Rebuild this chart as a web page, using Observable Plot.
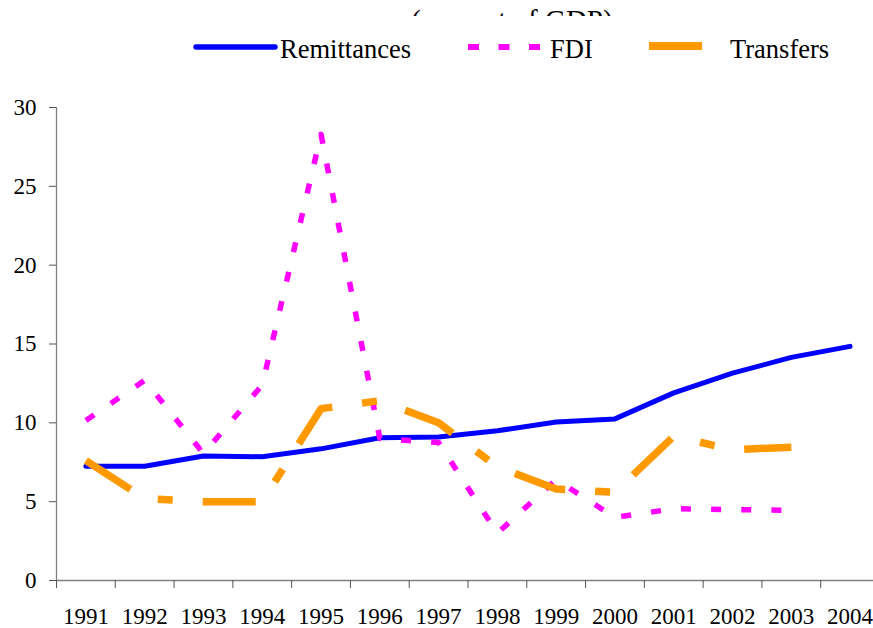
<!DOCTYPE html>
<html>
<head>
<meta charset="utf-8">
<script src="https://cdn.jsdelivr.net/npm/d3@7"></script>
<script src="https://cdn.jsdelivr.net/npm/@observablehq/plot@0.6"></script>
<style>
  html, body { margin: 0; padding: 0; background: #fff; overflow: hidden; }
  #wrap { position: relative; width: 873px; height: 628px; overflow: hidden; background: #fff;
          font-family: "Liberation Serif", "Times New Roman", serif; }
  #head { position: absolute; left: 0; top: 0; }
  #chart { position: absolute; left: 0; top: 70px; }
  #chart svg, #chart svg text { font-family: "Liberation Serif", "Times New Roman", serif !important; }
</style>
</head>
<body>
<div id="wrap">
  <svg id="head" width="873" height="70"></svg>
  <div id="chart"></div>
</div>
<script>
// ---- data ----
const title = "(percent of GDP)";
const years = [1991, 1992, 1993, 1994, 1995, 1996, 1997, 1998, 1999, 2000, 2001, 2002, 2003, 2004];
const remittances = [7.25, 7.25, 7.9, 7.85, 8.35, 9.05, 9.1, 9.5, 10.05, 10.25, 11.9, 13.15, 14.15, 14.85];
const fdi = [10.15, 12.7, 8.05, 12.4, 28.3, 9.0, 8.75, 3.0, 6.4, 4.0, 4.55, 4.5, 4.45];
const transfers = [7.6, 5.2, 5.0, 5.0, 10.9, 11.4, 10.0, 7.2, 5.8, 5.6, 9.15, 8.3, 8.45];
const yTicks = [0, 5, 10, 15, 20, 25, 30];
const seriesNames = ["Remittances", "FDI", "Transfers"];
const seriesColors = ["#0000FF", "#FF00FF", "#FF9900"];

// ---- styles ----
const fontFamily = "'Liberation Serif', 'Times New Roman', serif";
const axisColor = "#808080";
const styles = [
  {strokeWidth: 5, dash: null, cap: "round"},
  {strokeWidth: 5.5, dash: "10,20.15", cap: "butt"},
  {strokeWidth: 7.5, dash: "53,30,15,30", cap: "butt"}
];

const seriesValues = [remittances, fdi, transfers];
const tables = seriesValues.map((vals, s) =>
  vals.map((v, i) => ({year: years[i], value: v, series: seriesNames[s]}))
);

// ---- header: title (clipped, as in the source) + legend ----
const head = d3.select("#head");
head.append("defs").append("clipPath").attr("id", "titleclip")
  .append("rect").attr("x", 0).attr("y", 0).attr("width", 873).attr("height", 16);
head.append("g").attr("clip-path", "url(#titleclip)")
  .append("text")
  .attr("x", 512).attr("y", 29.5)
  .attr("text-anchor", "middle")
  .attr("font-family", fontFamily).attr("font-size", 29)
  .text(title);

const legendItems = [
  {x1: 196, x2: 275, y: 47, tx: 280},
  {x1: 468, x2: 541, y: 47, tx: 550},
  {x1: 649, x2: 702, y: 46, tx: 730}
];
const legendStyles = [
  {w: 5.5, dash: null, cap: "round"},
  {w: 6, dash: "11,19.5", cap: "butt"},
  {w: 8, dash: null, cap: "butt"}
];
legendItems.forEach((it, i) => {
  const ln = head.append("line")
    .attr("x1", it.x1).attr("x2", it.x2).attr("y1", it.y).attr("y2", it.y)
    .attr("stroke", seriesColors[i]).attr("stroke-width", legendStyles[i].w)
    .attr("stroke-linecap", legendStyles[i].cap);
  if (legendStyles[i].dash) ln.attr("stroke-dasharray", legendStyles[i].dash);
  head.append("text")
    .attr("x", it.tx).attr("y", 58)
    .attr("font-family", fontFamily).attr("font-size", 26.5)
    .text(seriesNames[i]);
});

// ---- chart ----
const bounds = years.map(y => y - 0.5).concat([years[years.length - 1] + 0.5]);

const lineMarks = tables.map((t, s) => Plot.line(t, {
  x: "year", y: "value",
  stroke: seriesColors[s],
  strokeWidth: styles[s].strokeWidth,
  strokeDasharray: styles[s].dash || undefined,
  strokeLinecap: styles[s].cap,
  strokeLinejoin: "round"
}));

const chart = Plot.plot({
  width: 873,
  height: 558,
  marginTop: 37,
  marginBottom: 48,
  marginLeft: 56,
  marginRight: 0,
  style: {fontFamily: fontFamily, fontSize: "23px", color: "#000", background: "#fff", overflow: "visible"},
  x: {type: "linear", domain: [bounds[0], bounds[bounds.length - 1]], range: [56, 879]},
  y: {domain: [0, 30], range: [510, 37]},
  marks: [
    Plot.ruleX([bounds[0]], {stroke: axisColor, strokeWidth: 1.3}),
    Plot.ruleY([0], {stroke: axisColor, strokeWidth: 1.3}),
    Plot.axisY({ticks: yTicks, tickSize: 7, tickPadding: 13, fontSize: 23, label: null,
                stroke: "#555", fill: "#000", tickFormat: d => String(d)}),
    Plot.axisX({ticks: bounds, tickSize: 8, tickFormat: () => "", label: null, stroke: "#555"}),
    Plot.axisX({ticks: years, tickSize: 0, tickPadding: 27, fontSize: 23, label: null,
                fill: "#000", tickFormat: d => String(d)}),
    ...lineMarks
  ]
});
document.getElementById("chart").appendChild(chart);
</script>
</body>
</html>
